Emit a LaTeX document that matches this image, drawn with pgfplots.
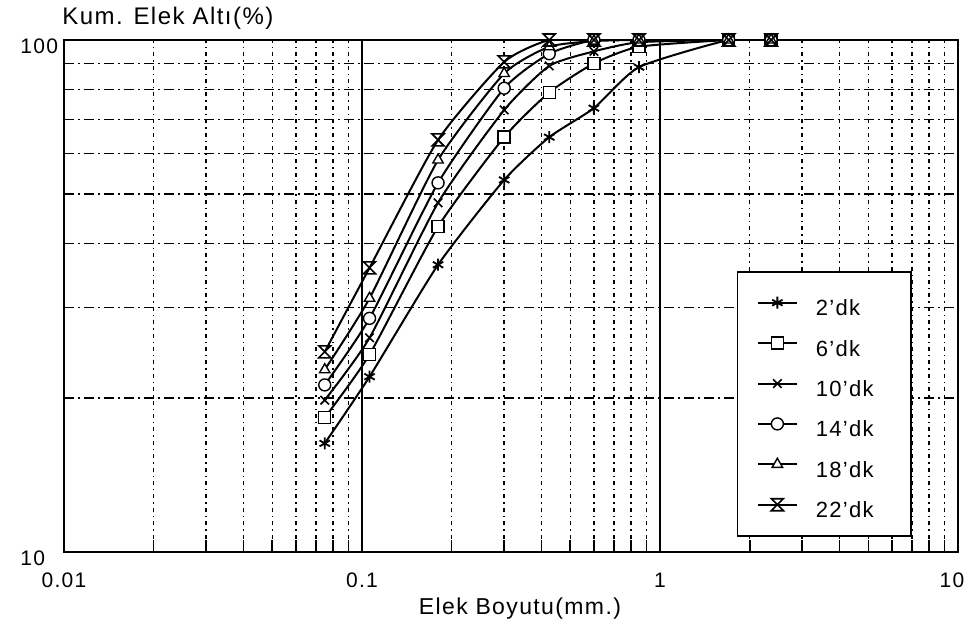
\documentclass[border=0pt]{standalone}
\usepackage{fontspec}
\setmainfont[LetterSpace=6]{Liberation Sans}
\usepackage{pgfplots}
\usepackage{pgfplotstable}
\pgfplotsset{compat=1.18}

% hourglass mark for the 22 minute series
\pgfdeclareplotmark{hourglass}{%
  \pgfpathmoveto{\pgfqpoint{-\pgfplotmarksize}{\pgfplotmarksize}}%
  \pgfpathlineto{\pgfqpoint{\pgfplotmarksize}{\pgfplotmarksize}}%
  \pgfpathlineto{\pgfqpoint{-\pgfplotmarksize}{-\pgfplotmarksize}}%
  \pgfpathlineto{\pgfqpoint{\pgfplotmarksize}{-\pgfplotmarksize}}%
  \pgfpathclose
  \pgfusepathqstroke}

% cumulative passing (%) per sieve size (mm) and grinding time
\pgfplotstableread{
size   d2    d6    d10   d14   d18   d22
0.075  16.3  18.3  19.8  21.2  22.7  24.6
0.106  22.0  24.3  26.2  28.6  31.3  35.9
0.18   36.4  43.2  48.1  52.6  58.3  63.8
0.3    53.3  64.6  73.0  80.5  86.0  90.6
0.425  64.6  79.0  89.0  94.0  97.0  100
0.6    73.6  90.0  95.0  100   99.5  100
0.85   88.5  97.0  99.0  100   100   100
1.7    100   100   100   100   100   100
2.36   100   100   100   100   100   100
}\sieve

\begin{document}
\begin{tikzpicture}
\begin{axis}[
  name=ax,
  at={(0,0)}, anchor=south west,
  scale only axis, width=447pt, height=256pt,
  xmode=log, ymode=log,
  xmin=0.01, xmax=10, ymin=10, ymax=100,
  xtick={0.01,0.1,1,10}, xticklabels={0.01,0.1,1,{\kern-6pt 10}},
  ytick={10,100}, yticklabels={10,100},
  minor xtick={0.02,0.03,0.04,0.05,0.06,0.07,0.08,0.09,0.2,0.3,0.4,0.5,0.6,0.7,0.8,0.9,2,3,4,5,6,7,8,9},
  minor ytick={20,30,40,50,60,70,80,90},
  grid=both,
  major x grid style={black, line width=1pt},
  major y grid style={draw=none},
  minor x grid style={black, line width=0.7pt, dash pattern=on 2pt off 2pt on 0.7pt off 2pt},
  minor y grid style={black, line width=0.7pt, dash pattern=on 5pt off 2pt on 1pt off 2pt},
  axis line style={black, line width=1pt},
  tick align=inside,
  xtick pos=bottom, ytick pos=left,
  major tick length=0pt, minor tick length=6pt,
  tick style={black, line width=0.8pt},
  ytick style={draw=none},
  /pgf/number format/assume math mode=true,
  tick label style={font=\fontsize{10.5}{12}\selectfont},
  xticklabel style={yshift=-7pt},
  yticklabel style={anchor=west, xshift=-25.3pt, yshift=-3pt},
  xlabel={Elek Boyutu(mm.)},
  xlabel style={at={(axis description cs:0.51,0)}, anchor=center, yshift=-28.5pt,
    font=\fontsize{11.5}{13}\selectfont},
  legend style={at={(0.9485,0.549)}, anchor=north east, draw=black,
    line width=0.8pt, fill=white, inner xsep=10pt, inner ysep=7pt, row sep=3.2pt,
    font=\fontsize{11}{13}\selectfont,
    nodes={text height=13pt, text depth=0pt, inner ysep=2pt}},
  legend cell align=left,
  legend image code/.code={
    \path[draw=none, fill=none] (0pt,0pt) (26.7pt,0pt);
    \draw[mark repeat=2, mark phase=2, #1] plot coordinates {(0pt,0pt) (9.5pt,0pt) (19pt,0pt)};
  },
  every axis plot/.append style={black, line width=1pt, smooth, tension=0.35,
    mark size=3pt},
]
\addplot [mark=asterisk, mark options={solid, line width=0.9pt}] table [x=size, y=d2] {\sieve};
\addlegendentry{\makebox[35.7pt][l]{2'dk}}
\addplot [mark=square*, mark options={solid, line width=0.7pt, fill=white}] table [x=size, y=d6] {\sieve};
\addlegendentry{\makebox[35.7pt][l]{6'dk}}
\addplot [mark=x, mark options={solid, line width=0.8pt}] table [x=size, y=d10] {\sieve};
\addlegendentry{\makebox[35.7pt][l]{10'dk}}
\addplot [mark=*, mark options={solid, line width=0.7pt, fill=white}] table [x=size, y=d14] {\sieve};
\addlegendentry{\makebox[35.7pt][l]{14'dk}}
\addplot [mark=triangle*, mark options={solid, line width=0.7pt, fill=white}] table [x=size, y=d18] {\sieve};
\addlegendentry{\makebox[35.7pt][l]{18'dk}}
\addplot [mark=hourglass, mark options={solid, line width=0.8pt}] table [x=size, y=d22] {\sieve};
\addlegendentry{\makebox[35.7pt][l]{22'dk}}
\end{axis}
\node[anchor=base west, font=\fontsize{12}{14}\selectfont, inner sep=0pt]
  at ([shift={(-1pt,7.5pt)}]ax.north west) {Kum. Elek Altı(\%)};
\pgfresetboundingbox
\path[use as bounding box] (-32pt,-40pt) rectangle (452pt,276pt);
\end{tikzpicture}
\end{document}
